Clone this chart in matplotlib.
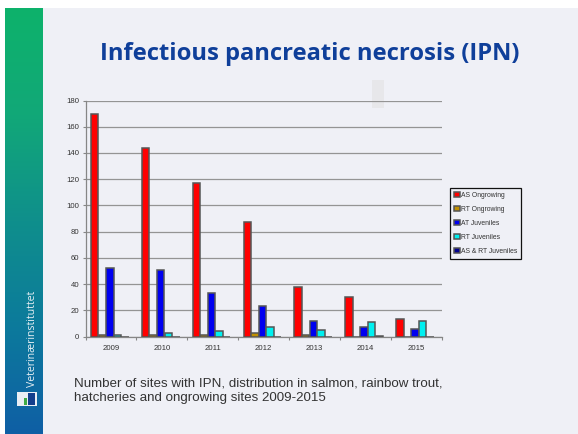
import numpy as np
import matplotlib
matplotlib.use("Agg")
import matplotlib.pyplot as plt
from matplotlib.patches import Rectangle
from matplotlib.colors import LinearSegmentedColormap

years = ["2009", "2010", "2011", "2012", "2013", "2014", "2015"]
as_ongrowing = [170, 144, 117, 87, 38, 30, 13]
rt_ongrowing = [1, 1, 1, 3, 1, 0, 0]
at_juveniles = [52, 51, 33, 23, 12, 7, 6]
rt_juveniles = [1, 3, 4, 7, 5, 11, 12]
as_rt_juveniles = [0, 0, 0, 0, 0, 0.5, 0]
series = [("AS Ongrowing", as_ongrowing, "#FF0000"),
          ("RT Ongrowing", rt_ongrowing, "#C09000"),
          ("AT Juveniles", at_juveniles, "#0000F0"),
          ("RT Juveniles", rt_juveniles, "#00F0F0"),
          ("AS & RT Juveniles", as_rt_juveniles, "#000090")]
title = "Infectious pancreatic necrosis (IPN)"
caption = ("Number of sites with IPN, distribution in salmon, rainbow trout,\n"
           "hatcheries and ongrowing sites 2009-2015")

W, H = 578, 434
fig = plt.figure(figsize=(W / 100, H / 100), dpi=100, facecolor="white")
plt.rcParams["font.family"] = ["Liberation Sans", "DejaVu Sans"]

bg = fig.add_axes([0, 0, 1, 1])
bg.set_xlim(0, W); bg.set_ylim(H, 0); bg.axis("off")
bg.add_patch(Rectangle((5, 8), W - 5, H - 8, fc="#EFF0F6", ec="none"))
bg.add_patch(Rectangle((372, 80), 12, 28, fc="#E7E7EA", ec="none"))
cmap = LinearSegmentedColormap.from_list("band", ["#0DB26B", "#12A878", "#0F8F8C", "#0C7A9C", "#0F5FA5"])
bg.imshow(np.linspace(0, 1, 256)[:, None], extent=(5, 43, H, 8), cmap=cmap, aspect="auto", zorder=2)
bg.set_xlim(0, W); bg.set_ylim(H, 0)
bg.text(32.5, 387, "Veterinærinstituttet", rotation=90, color="#E8F0F4", fontsize=7.6,
        family="Open Sans", ha="center", va="bottom", zorder=3)
bg.add_patch(Rectangle((16.5, 392), 20, 14, fc="#E8EEF4", ec="none", zorder=3))
bg.add_patch(Rectangle((28, 393), 7, 12, fc="#123E8C", ec="none", zorder=4))
bg.add_patch(Rectangle((23.5, 398), 3, 7, fc="#3DAA45", ec="none", zorder=4))
bg.text(310, 54, title, color="#0F3F9A", fontsize=17.1, fontweight="bold", family="Open Sans",
        ha="center", va="center")
bg.text(74.5, 391, caption, color="#333333", fontsize=9.6, family="Liberation Sans",
        ha="left", va="center", linespacing=1.32)

ax = fig.add_axes([85.5 / W, 1 - 336.5 / H, 356 / W, 236 / H])
ax.patch.set_alpha(0)
x = np.arange(len(years))
bw = 0.149
for i, (name, vals, col) in enumerate(series):
    ax.bar(x - 0.02 + (i - 2) * bw, vals, bw * 0.98, color=col, edgecolor="#555555", linewidth=1.1,
           label=name, zorder=3)
ax.set_xlim(-0.5, 6.5)
ax.set_ylim(0, 180)
ax.set_yticks(range(0, 181, 20))
ax.set_xticks(np.arange(-0.5, 7, 1))
ax.set_xticklabels([])
ax.set_xticks(x, minor=True)
ax.set_xticklabels(years, minor=True, fontsize=5.6, color="#333333")
ax.tick_params(axis="x", which="minor", length=0, pad=6)
ax.tick_params(axis="x", which="major", length=2.5, color="#868686", width=0.8, direction="out")
ax.tick_params(axis="y", length=2.5, color="#868686", width=0.8, labelsize=5.6, labelcolor="#333333", pad=2)
ax.grid(axis="y", color="#949494", linewidth=0.9, zorder=0)
ax.set_axisbelow(True)
for s in ("top", "right"):
    ax.spines[s].set_visible(False)
for s in ("left", "bottom"):
    ax.spines[s].set_color("#868686")
    ax.spines[s].set_linewidth(0.9)

leg = ax.legend(loc="upper left", bbox_to_anchor=(450 / W, 1 - 260.5 / H, 70.5 / W, 72.5 / H),
                bbox_transform=fig.transFigure, frameon=True, fancybox=False,
                fontsize=4.9, handlelength=0.9, handleheight=0.9, handletextpad=0.12,
                labelspacing=1.0, borderpad=0.55, borderaxespad=0, labelcolor="#333333")
leg.get_frame().set_edgecolor("#111111")
leg.get_frame().set_facecolor("#EFF0F6")
leg.get_frame().set_alpha(1)
leg.get_frame().set_linewidth(0.9)

fig.savefig("out.png", dpi=100)
